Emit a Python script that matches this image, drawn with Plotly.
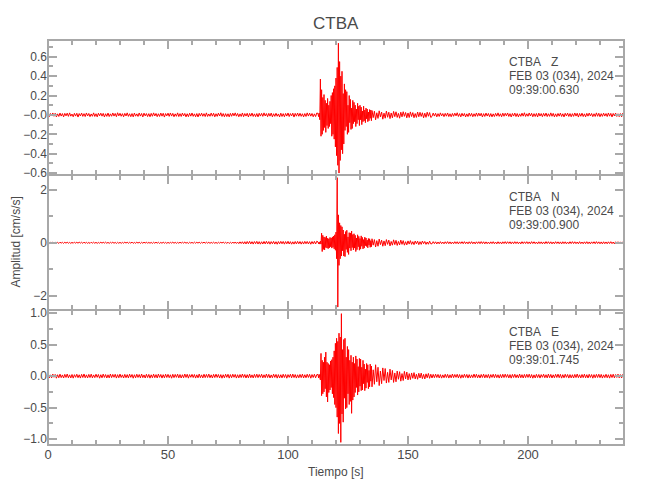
import numpy as np
import plotly.graph_objects as go
from plotly.subplots import make_subplots

# ---------------- data ----------------
STATION = "CTBA"
DATE_LABEL = "FEB 03 (034), 2024"
CHANNELS = ["Z", "N", "E"]
START_TIMES = ["09:39:00.630", "09:39:00.900", "09:39:01.745"]

SEGMENTS = [(0.0, 0.5), (112.5, 0.25), (135.0, 0.5), (160.0, 0.5)]

# quiet background noise is given in 1e-3 cm/s/s, event and coda in cm/s/s
# ---- Z component ----
Z_PRE_MILLI = [
    12, -18, 15, -9, 20, -14, 17, -21, 11, -16, 19, -12, 14, -20, 16,
    -10, 18, -15, 21, -13, 9, -19, 16, -12, 17, -22, 14, -11, 19, -15,
    13, -17, 20, -11, 15, -18, 10, -14, 21, -16, 12, -20, 17, -9, 18,
    -13, 16, -21, 12, -15, 19, -17, 11, -14, 20, -12, 15, -18, 22, -10,
    17, -14, 13, -19, 16, -11, 21, -15, 12, -18, 14, -20, 19, -13, 11,
    -16, 20, -12, 15, -21, 18, -10, 14, -17, 13, -19, 16, -14, 21, -11,
    15, -18, 12, -16, 19, -13, 17, -22, 14, -10, 18, -15, 20, -12, 16,
    -19, 11, -14, 21, -17, 13, -16, 19, -11, 15, -20, 12, -18, 17, -13,
    20, -15, 11, -19, 14, -21, 16, -12, 18, -14, 13, -17, 21, -16, 10,
    -14, 19, -13, 17, -20, 12, -15, 18, -11, 22, -16, 14, -19, 13, -17,
    12, -20, 16, -14, 18, -10, 21, -13, 15, -19, 11, -16, 20, -18, 14,
    -12, 17, -21, 15, -13, 19, -16, 11, -18, 14, -20, 17, -12, 16, -15,
    21, -11, 14, -18, 16, -13, 19, -20, 12, -15, 17, -14, 10, -21, 18,
    -16, 13, -19, 15, -12, 20, -17, 14, -11, 18, -22, 16, -13, 19, -14,
    17, -15, 12, -20, 14, -16, 21, -12, 18, -13, 15, -19, 11, -17, 20]
Z_EVENT = [0.015, -0.018, 0.02, -0.05, 0.37, -0.22, 0.26, -0.2, 0.18, -0.16,
           0.21, -0.13, 0.15, -0.18, 0.12, -0.11, 0.17, -0.14, 0.1, -0.12,
           0.14, -0.09, 0.2, -0.22, 0.23, -0.2, 0.27, -0.25, 0.3, -0.33,
           0.38, -0.42, 0.49, -0.52, 0.74, -0.6, 0.55, -0.47, 0.4, -0.36,
           0.45, -0.4, 0.22, -0.3, 0.32, -0.16, 0.26, -0.12, 0.24, -0.2,
           0.1, -0.18, 0.2, -0.08, 0.16, -0.15, 0.07, -0.14, 0.15, -0.09,
           0.13, -0.07, 0.1, -0.12, 0.06, -0.09, 0.12, -0.05, 0.09, -0.11,
           0.1, -0.05, 0.08, -0.1, 0.04, -0.07, 0.09, -0.06, 0.05, -0.08,
           0.07, -0.04, 0.06, -0.07, 0.03, -0.06, 0.055, -0.035, 0.05, -0.06]
Z_CODA = [0.045, -0.028, 0.038, -0.05, 0.022, -0.036, 0.042, -0.02, 0.03, -0.044,
          0.018, -0.034, 0.04, -0.024, 0.028, -0.038, 0.02, -0.03, 0.036, -0.018,
          0.032, -0.026, 0.016, -0.034, 0.028, -0.02, 0.033, -0.015, 0.025, -0.03,
          0.02, -0.027, 0.031, -0.017, 0.024, -0.029, 0.014, -0.026, 0.03, -0.019,
          0.027, -0.016, 0.022, -0.03, 0.018, -0.025, 0.028, -0.014, 0.024, -0.027]
Z_POST_MILLI = [
    -15, 19, -12, 17, -20, 13, -16, 21, -11, 14, -18, 16, -13, 20, -17, 12,
    -19, 15, -14, 18, -10, 22, -16, 13, -20, 17, -12, 15, -21, 11, -17, 19,
    -13, 16, -19, 12, -15, 20, -14, 18, -11, 17, -21, 13, -16, 19, -12, 15,
    -18, 14, -20, 11, -17, 16, -13, 21, -15, 12, -19, 18, -14, 17, -10, 20,
    -16, 13, -21, 15, -12, 19, -17, 14, -20, 11, -15, 18, -13, 22, -16, 12,
    -14, 20, -11, 17, -19, 13, -16, 15, -21, 18, -12, 14, -18, 16, -13, 19,
    -17, 12, -15, 21, -14, 16, -20, 11, -18, 15, -13, 19, -16, 12, -21, 17,
    -11, 18, -16, 14, -19, 13, -15, 20, -12, 17, -22, 15, -14, 18, -17, 11,
    -20, 16, -13, 19, -11, 15, -18, 12, -16, 21, -14, 17, -19, 13, -15, 18,
    -12, 14, -17, 20, -13, 16, -21, 15, -11, 19, -16, 12, -18, 14, -20, 17,
    -14]

# ---- N component ----
N_PRE_MILLI = [
    18, -24, 15, -20, 23, -13, 19, -22, 16, -25, 21, -14, 17, -23, 20,
    -16, 22, -19, 14, -24, 18, -21, 25, -15, 20, -17, 23, -13, 19, -22,
    24, -18, 16, -21, 13, -25, 20, -15, 22, -19, 17, -23, 14, -20, 25,
    -17, 21, -14, 23, -19, 16, -24, 18, -13, 22, -20, 15, -25, 17, -21,
    19, -23, 15, -17, 24, -14, 21, -20, 18, -16, 25, -22, 13, -19, 23,
    -15, 20, -24, 17, -18, 22, -13, 25, -21, 16, -19, 14, -23, 20, -17,
    22, -16, 19, -25, 14, -20, 23, -17, 15, -24, 18, -21, 16, -13, 24,
    -20, 17, -22, 15, -19, 24, -16, 21, -14, 23, -18, 13, -25, 19, -15,
    16, -21, 24, -18, 20, -15, 22, -23, 17, -14, 25, -19, 21, -16, 18,
    -23, 15, -17, 22, -20, 14, -24, 19, -16, 21, -13, 25, -18, 17, -22,
    20, -26, 18, -24, 28, -22, 30, -27, 25, -33, 35, -30, 38, -42, 40,
    -45, 48, -38, 52, -44, 40, -50, 46, -36, 54, -48, 42, -52, 38, -47,
    50, -43, 55, -40, 47, -53, 44, -37, 51, -49, 39, -55, 46, -41, 53,
    -38, 49, -52, 45, -40, 56, -47, 42, -54, 36, -50, 48, -44, 52, -39,
    46, -51, 41, -48, 53, -37, 50, -45, 43, -55, 47, -40, 52, -46, 60]
N_EVENT = [0.03, -0.04, 0.03, -0.05, 0.06, -0.05, 0.36, -0.33, 0.28, -0.25,
           0.22, -0.27, 0.2, -0.18, 0.25, -0.2, 0.17, -0.22, 0.15, -0.19,
           0.2, -0.15, 0.18, -0.2, 0.22, -0.17, 0.25, -0.23, 0.3, -0.28,
           0.4, -0.6, 2.45, -2.42, 1.05, -0.85, 0.75, -0.6, 0.65, -0.5,
           0.6, -0.3, 0.48, -0.5, 0.32, -0.52, 0.42, -0.25, 0.47, -0.36,
           0.22, -0.44, 0.38, -0.2, 0.37, -0.3, 0.44, -0.18, 0.31, -0.27,
           0.34, -0.2, 0.28, -0.33, 0.18, -0.26, 0.3, -0.15, 0.24, -0.28,
           0.16, -0.24, 0.26, -0.13, 0.2, -0.23, 0.12, -0.2, 0.21, -0.11,
           0.18, -0.14, 0.1, -0.19, 0.16, -0.09, 0.15, -0.17, 0.08, -0.15]
N_CODA = [0.15, -0.09, 0.12, -0.16, 0.08, -0.13, 0.14, -0.07, 0.1, -0.13,
          0.07, -0.11, 0.12, -0.06, 0.1, -0.12, 0.05, -0.09, 0.11, -0.07,
          0.09, -0.1, 0.05, -0.08, 0.1, -0.06, 0.08, -0.09, 0.04, -0.08,
          0.07, -0.05, 0.08, -0.06, 0.04, -0.07, 0.065, -0.04, 0.06, -0.07,
          0.04, -0.06, 0.065, -0.035, 0.05, -0.06, 0.03, -0.055, 0.06, -0.04]
N_POST_MILLI = [
    -38, 42, -33, 36, -44, 30, -39, 41, -35, 28, -40, 37, -31, 43, -36, 34,
    -41, 29, -37, 40, -32, 38, -43, 35, -30, 39, -36, 42, -34, 31, -40, 37,
    -33, 41, -38, 30, -42, 36, -29, 39, -35, 43, -31, 37, -40, 33, -36, 28,
    -39, 35, -32, 40, -37, 29, -41, 38, -34, 31, -43, 36, -30, 42, -35, 39,
    -28, 37, -40, 33, -36, 41, -31, 35, -38, 30, -42, 39, -33, 36, -29, 40,
    -36, 32, -39, 42, -30, 37, -35, 28, -41, 38, -33, 34, -40, 31, -37, 43,
    -31, 39, -34, 36, -42, 30, -38, 41, -29, 35, -37, 33, -43, 38, -32, 36,
    -40, 28, -36, 39, -33, 42, -31, 37, -35, 30, -39, 41, -34, 29, -38, 35,
    -33, 40, -37, 31, -41, 34, -28, 38, -36, 43, -30, 35, -39, 32, -42, 37,
    -35, 31, -38, 36, -30, 40, -34, 29, -41, 37, -32, 39, -36, 33, -40, 34,
    -32]

# ---- E component ----
E_PRE_MILLI = [
    25, -30, 20, -28, 32, -18, 27, -33, 22, -26, 31, -24, 19, -30, 28,
    -21, 33, -27, 20, -29, 26, -32, 23, -19, 30, -25, 21, -31, 28, -22,
    34, -26, 20, -29, 27, -23, 31, -28, 19, -24, 30, -20, 26, -33, 22,
    -27, 32, -21, 25, -30, 21, -28, 33, -24, 27, -19, 29, -31, 23, -26,
    32, -22, 20, -30, 28, -25, 24, -29, 31, -20, 26, -33, 22, -27, 30,
    -21, 25, -28, 33, -24, 19, -30, 29, -23, 27, -32, 21, -26, 31, -25,
    24, -29, 32, -20, 26, -31, 23, -27, 30, -22, 28, -25, 21, -33, 29,
    -24, 27, -20, 31, -28, 25, -30, 22, -26, 33, -21, 29, -32, 24, -19,
    28, -23, 26, -31, 21, -27, 33, -25, 20, -29, 30, -24, 27, -22, 32,
    -26, 20, -30, 28, -23, 31, -21, 26, -29, 24, -33, 22, -27, 30, -20,
    29, -32, 24, -26, 30, -19, 27, -31, 22, -28, 25, -23, 33, -21, 26,
    -30, 23, -27, 32, -25, 20, -29, 28, -22, 31, -24, 26, -20, 30, -28,
    21, -25, 33, -23, 28, -30, 19, -26, 31, -21, 27, -32, 24, -29, 22,
    -28, 30, -22, 26, -33, 24, -20, 29, -27, 32, -23, 25, -31, 21, -26,
    27, -24, 31, -29, 22, -26, 30, -21, 28, -33, 25, -22, 29, -27, 24]
E_EVENT = [0.025, -0.03, 0.028, -0.025, -0.06, 0.36, -0.31, 0.25, -0.28, 0.22,
           -0.25, 0.3, -0.2, 0.38, -0.33, 0.22, -0.41, 0.2, -0.26, 0.18,
           -0.22, 0.24, -0.18, 0.26, -0.28, 0.3, -0.34, 0.4, -0.45, 0.52,
           -0.5, 0.6, -0.65, 0.55, -0.91, 0.68, -0.75, 0.62, -1.05, 0.99,
           -0.6, 0.42, -0.73, 0.58, -0.35, 0.6, -0.52, 0.3, -0.5, 0.47,
           -0.28, 0.42, -0.45, 0.25, -0.4, 0.33, -0.59, 0.22, -0.38, 0.3,
           -0.33, 0.2, -0.26, 0.32, -0.18, 0.27, -0.3, 0.15, -0.25, 0.28,
           -0.16, 0.27, -0.23, 0.14, -0.22, 0.25, -0.12, 0.19, -0.23, 0.11,
           -0.19, 0.2, -0.1, 0.18, -0.2, 0.09, -0.17, 0.19, -0.08, 0.16]
E_CODA = [-0.17, 0.1, -0.13, 0.18, -0.09, 0.14, -0.15, 0.08, -0.12, 0.13,
          -0.07, 0.12, -0.11, 0.06, -0.1, 0.11, -0.06, 0.09, -0.1, 0.05,
          -0.09, 0.08, -0.05, 0.07, -0.08, 0.04, -0.07, 0.075, -0.045, 0.065,
          -0.06, 0.04, -0.055, 0.05, -0.035, 0.055, -0.045, 0.03, -0.05, 0.045,
          -0.03, 0.048, -0.04, 0.028, -0.045, 0.036, -0.026, 0.042, -0.035, 0.03]
E_POST_MILLI = [
    -30, 28, -25, 31, -22, 27, -29, 24, -32, 20, -26, 30, -23, 28, -31, 21,
    -27, 33, -24, 26, -20, 29, -28, 25, -33, 22, -26, 30, -21, 27, -31, 24,
    -28, 20, -25, 32, -23, 29, -27, 21, -30, 26, -22, 31, -28, 23, -25, 27,
    -33, 24, -21, 30, -26, 28, -24, 22, -31, 25, -27, 29, -23, 31, -20, 26,
    -29, 24, -32, 27, -22, 30, -25, 21, -28, 33, -26, 23, -30, 27, -24, 29,
    -21, 31, -27, 25, -33, 20, -29, 28, -23, 26, -31, 24, -19, 30, -26, 22,
    -28, 32, -24, 27, -30, 21, -26, 29, -22, 31, -25, 28, -32, 23, -27, 30,
    -20, 26, -31, 24, -28, 22, -30, 27, -23, 33, -25, 21, -29, 26, -24, 31,
    -27, 23, -30, 29, -21, 25, -33, 24, -26, 28, -22, 30, -25, 27, -31, 20,
    -24, 29, -26, 22, -32, 27, -23, 30, -28, 25, -21, 31, -27, 24, -29, 26,
    -25]

MILLI = 1e-3  # unit conversion of the quiet-noise lists
TRACES = {
    "Z": [[v * MILLI for v in Z_PRE_MILLI], Z_EVENT, Z_CODA, [v * MILLI for v in Z_POST_MILLI]],
    "N": [[v * MILLI for v in N_PRE_MILLI], N_EVENT, N_CODA, [v * MILLI for v in N_POST_MILLI]],
    "E": [[v * MILLI for v in E_PRE_MILLI], E_EVENT, E_CODA, [v * MILLI for v in E_POST_MILLI]],
}

# axis ticks per panel
Y_RANGES = {"Z": [-0.62, 0.773], "N": [-2.53, 2.55], "E": [-1.092, 1.048]}
Y_TICKVALS = {"Z": [-0.6, -0.4, -0.2, 0.0, 0.2, 0.4, 0.6],
              "N": [-2, 0, 2],
              "E": [-1.0, -0.5, 0.0, 0.5, 1.0]}
Y_TICKTEXT = {"Z": ["\u22120.6", "\u22120.4", "\u22120.2", "\u22120.0", "0.2", "0.4", "0.6"],
              "N": ["\u22122", "0", "2"],
              "E": ["\u22121.0", "\u22120.5", "0.0", "0.5", "1.0"]}
Y_MINOR = {"Z": 0.1, "N": 1.0, "E": 0.25}
X_TICKVALS = [0, 50, 100, 150, 200]
X_RANGE = [0, 240]


def build_xy(parts):
    t, v = [], []
    for (t0, dt), vals in zip(SEGMENTS, parts):
        t.extend((t0 + dt * np.arange(len(vals))).tolist())
        v.extend(vals)
    return t, v


# ---------------- figure ----------------
FONT = "Liberation Sans, Arial, sans-serif"
TEXT_C = "#4a4a4a"
LINE_C = "#a8a8a8"
RED = "#ff0000"

fig = make_subplots(rows=3, cols=1, shared_xaxes=True, vertical_spacing=0)

for i, ch in enumerate(CHANNELS):
    t, v = build_xy(TRACES[ch])
    fig.add_trace(go.Scatter(x=t, y=v, mode="lines",
                             line=dict(color=RED, width=1),
                             showlegend=False, hoverinfo="skip"),
                  row=i + 1, col=1)

    fig.update_yaxes(row=i + 1, col=1,
                     range=Y_RANGES[ch], tickmode="array",
                     tickvals=Y_TICKVALS[ch], ticktext=Y_TICKTEXT[ch],
                     ticks="inside", ticklen=9, tickwidth=2, tickcolor=LINE_C,
                     minor=dict(ticks="inside", ticklen=5, tickwidth=2,
                                tickcolor=LINE_C, dtick=Y_MINOR[ch], tick0=0,
                                showgrid=False),
                     showline=False, mirror="allticks", showgrid=False,
                     zeroline=False,
                     tickfont=dict(family=FONT, size=12, color=TEXT_C))
    fig.update_xaxes(row=i + 1, col=1,
                     range=X_RANGE, tickmode="array", tickvals=X_TICKVALS,
                     ticks="inside", ticklen=9, tickwidth=2, tickcolor=LINE_C,
                     minor=dict(ticks="inside", ticklen=5, tickwidth=2,
                                tickcolor=LINE_C, dtick=10, tick0=0,
                                showgrid=False),
                     showline=False, mirror="allticks", showgrid=False,
                     zeroline=False, showticklabels=(i == 2),
                     tickfont=dict(family=FONT, size=13, color=TEXT_C))

    yref = "y domain" if i == 0 else f"y{i + 1} domain"
    xref = "x domain" if i == 0 else f"x{i + 1} domain"
    # panel frame
    fig.add_shape(type="rect", xref=xref, yref=yref, x0=0, x1=1, y0=0, y1=1,
                  line=dict(color=LINE_C, width=2), fillcolor="rgba(0,0,0,0)",
                  layer="above")
    # station / channel / date labels in each panel
    lines = [f"{STATION}\u00a0\u00a0\u00a0{ch}", DATE_LABEL, START_TIMES[i]]
    for j, txt in enumerate(lines):
        fig.add_annotation(text=txt, xref=xref, yref=yref,
                           x=0.797, y=[0.84, 0.735, 0.63][j],
                           xanchor="left", yanchor="middle", showarrow=False,
                           font=dict(family=FONT, size=12, color=TEXT_C))

# title and axis titles
fig.add_annotation(text=STATION, xref="paper", yref="paper", x=0.5, y=1,
                   yshift=17, xanchor="center", yanchor="middle", showarrow=False,
                   font=dict(family=FONT, size=17, color=TEXT_C))
fig.add_annotation(text="Tiempo [s]", xref="paper", yref="paper", x=0.5, y=0,
                   yshift=-27, xanchor="center", yanchor="middle", showarrow=False,
                   font=dict(family=FONT, size=12, color=TEXT_C))
fig.add_annotation(text="Amplitud [cm/s/s]", xref="paper", yref="paper", x=0,
                   y=0.5, xshift=-33, textangle=-90, xanchor="center",
                   yanchor="middle", showarrow=False,
                   font=dict(family=FONT, size=12, color=TEXT_C))

# the page adds an 8 px body margin, so the figure is 8 px smaller here
fig.update_layout(width=642, height=492,
                  margin=dict(l=40, r=26, t=32, b=55),
                  paper_bgcolor="white", plot_bgcolor="white",
                  showlegend=False)

fig.write_html("out.html")
